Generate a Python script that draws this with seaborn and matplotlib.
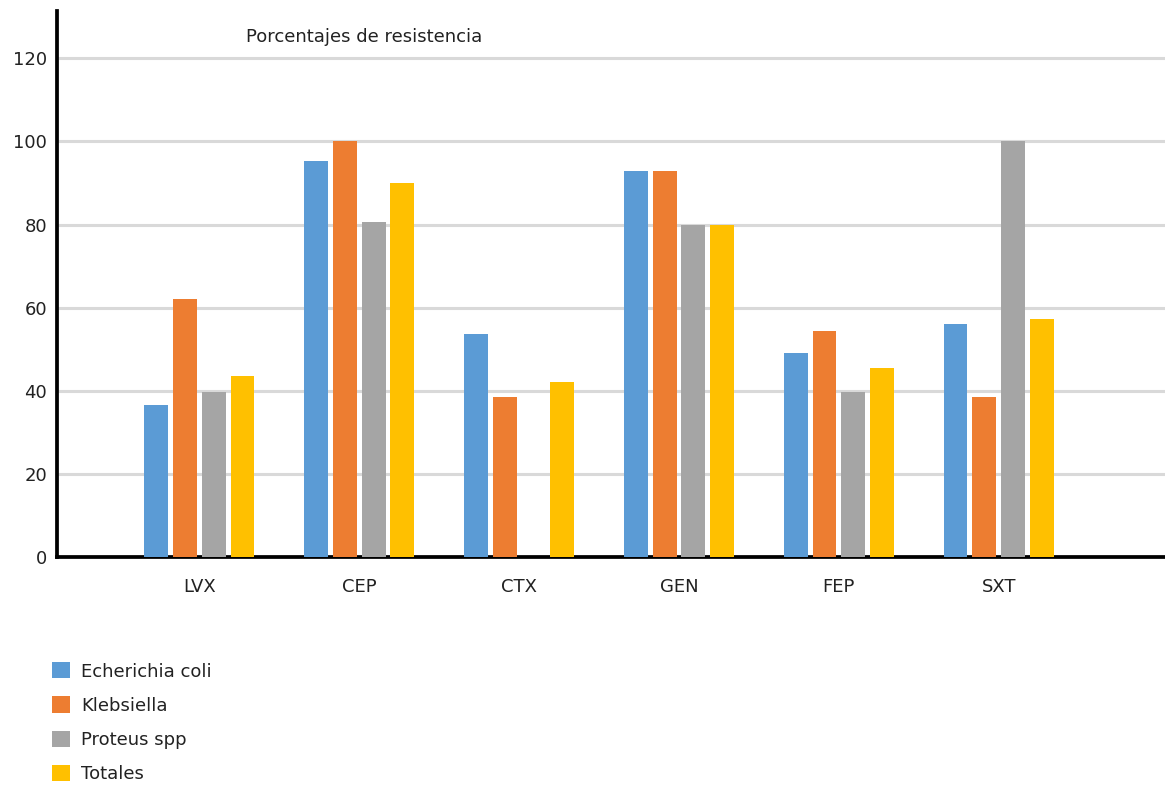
import matplotlib
matplotlib.use("Agg")
import matplotlib.pyplot as plt
import seaborn as sns
import pandas as pd
from matplotlib.patches import Patch

categories = ["LVX", "CEP", "CTX", "GEN", "FEP", "SXT"]
series_names = ["Echerichia coli", "Klebsiella", "Proteus spp", "Totales"]
e_coli = [36.7, 95.3, 53.7, 92.9, 49.0, 56.0]
klebsiella = [62.0, 100.0, 38.6, 92.9, 54.4, 38.6]
proteus = [39.7, 80.6, 0.0, 80.0, 39.7, 100.0]
totales = [43.6, 90.0, 42.0, 80.0, 45.6, 57.2]
colors = ["#5B9BD5", "#ED7D31", "#A5A5A5", "#FFC000"]
yticks = [0, 20, 40, 60, 80, 100, 120]
title = "Porcentajes de resistencia"

rows = []
for name, vals in zip(series_names, [e_coli, klebsiella, proteus, totales]):
    for c, v in zip(categories, vals):
        rows.append({"Antibiótico": c, "Serie": name, "Valor": v})
df = pd.DataFrame(rows)

sns.set_theme(style="white")
plt.rcParams["font.family"] = ["DejaVu Sans"]

fig = plt.figure(figsize=(11.65, 7.87), dpi=100)
ax = fig.add_axes([57 / 1165, 230 / 787, 1 - 57 / 1165, (557 - 11) / 787])

sns.barplot(data=df, x="Antibiótico", y="Valor", hue="Serie", order=categories,
            hue_order=series_names, palette=colors, saturation=1,
            width=0.72, gap=0.17, linewidth=0, ax=ax, legend=False, zorder=3)

ax.set_xlim(-0.89, 6.04)
ax.set_ylim(0, 131.4)
ax.set_yticks(yticks)
ax.set_yticklabels([str(t) for t in yticks])
ax.set_xlabel("")
ax.set_ylabel("")
ax.yaxis.grid(True, color="#D9D9D9", linewidth=2.2, zorder=0)
ax.xaxis.grid(False)
ax.set_axisbelow(True)
for s in ["top", "right"]:
    ax.spines[s].set_visible(False)
for s in ["left", "bottom"]:
    ax.spines[s].set_color("black")
    ax.spines[s].set_linewidth(2.7)
ax.tick_params(axis="both", length=0, labelsize=13, colors="#222222")
ax.tick_params(axis="y", pad=7)
ax.tick_params(axis="x", pad=15)

ax.text(246 / 1165, 1 - 37 / 787, title, transform=fig.transFigure, fontsize=13,
        ha="left", va="center", color="#222222")

handles = [Patch(facecolor=c, edgecolor="none") for c in colors]
fig.legend(handles, series_names, loc="upper left",
           bbox_to_anchor=(36 / 1165, 1 - 646 / 787), frameon=False, fontsize=13,
           handlelength=1.0, handleheight=1.0, handletextpad=0.6,
           labelspacing=0.88, labelcolor="#222222")

fig.savefig("out.png", dpi=100)
